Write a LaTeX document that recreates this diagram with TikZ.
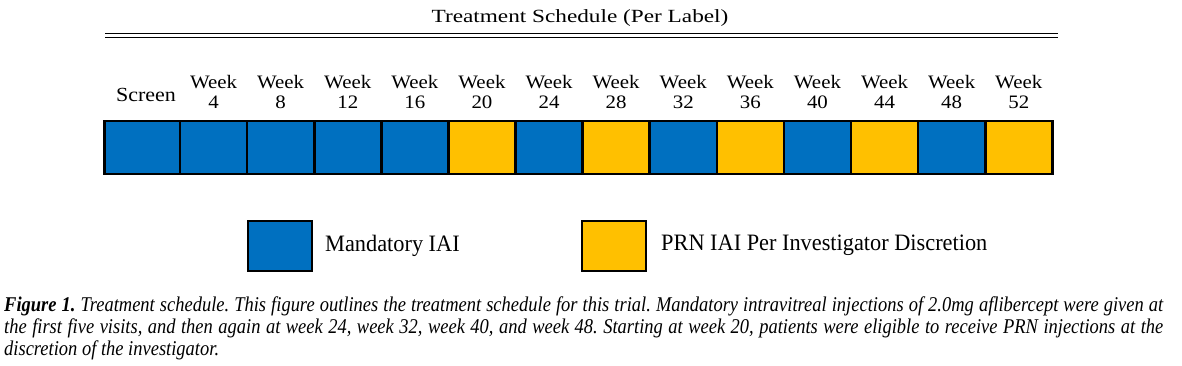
\documentclass[tikz,border=0pt]{standalone}
\usepackage{fontspec}
\setmainfont{Liberation Serif}
\newfontfamily\labfont[FakeStretch=1.25]{Liberation Serif}
\newfontfamily\wkfont[FakeStretch=1.1]{Liberation Serif}
\newfontfamily\legfont[FakeStretch=0.95]{Liberation Serif}
\newfontfamily\capfont[FakeStretch=0.88]{Liberation Serif}
\definecolor{mandblue}{HTML}{0070C0}
\definecolor{prnyellow}{HTML}{FFC000}
\frenchspacing
\begin{document}
\begin{tikzpicture}[x=1pt,y=-1pt,
  cell/.style={draw=black,line width=2.6pt,minimum height=53pt,inner sep=0pt,outer sep=0pt},
  mand/.style={cell,fill=mandblue},
  prn/.style={cell,fill=prnyellow},
  wlabel/.style={align=center,font=\wkfont\fontsize{19}{20}\selectfont,inner sep=0pt},
  legbox/.style={draw=black,line width=2pt,minimum width=64pt,minimum height=50pt,inner sep=0pt},
  legtext/.style={anchor=west,font=\legfont\fontsize{23.5}{26}\selectfont,inner sep=0pt},
  capline/.style={anchor=base west,inner sep=0pt,font=\capfont\itshape\fontsize{21}{22}\selectfont}
]
\useasboundingbox (0,0) rectangle (1182,365);
% title
\node[font=\labfont\fontsize{18.6}{20}\selectfont,inner sep=0pt] (title) at (580,18) {Treatment Schedule (Per Label)};
\coordinate (rl) at (105,33.6);
\coordinate (rr) at (1058,33.6);
\draw[line width=1.3pt] (rl) -- (rr);
\draw[line width=1.3pt] ([yshift=-3.6pt]rl) -- ([yshift=-3.6pt]rr);
% cells
\node[mand,minimum width=75.5pt] (c0) at (142.25,147.5) {};
\foreach \i/\s/\w in {1/mand/4,2/mand/8,3/mand/12,4/mand/16,5/prn/20,6/mand/24,7/prn/28,8/mand/32,9/prn/36,10/mand/40,11/prn/44,12/mand/48,13/prn/52}{
  \pgfmathsetmacro{\cx}{180+67.1*(\i-0.5)}
  \node[\s,minimum width=67.1pt] (c\i) at (\cx,147.5) {};
  \node[wlabel] (l\i) at (\cx,92) {Week\\\w};
}
\node[wlabel,font=\wkfont\fontsize{20}{20}\selectfont] (l0) at (146,95) {Screen};
% legend
\node[legbox,fill=mandblue] (lb) at (279.5,245.5) {};
\node[legtext] (lt) at (325,245.5) {Mandatory IAI};
\node[legbox,fill=prnyellow] (yb) at (614,245.5) {};
\node[legtext] (yt) at (661,245.5) {PRN IAI Per Investigator Discretion};
% caption
\node[capline] (cap1) at (4,311) {\makebox[1159pt][s]{\textbf{Figure 1.} Treatment schedule. This figure outlines the treatment schedule for this trial. Mandatory intravitreal injections of 2.0mg aflibercept were given at}};
\node[capline] (cap2) at (4,333.5) {\makebox[1159pt][s]{the first five visits, and then again at week 24, week 32, week 40, and week 48. Starting at week 20, patients were eligible to receive PRN injections at the}};
\node[capline] (cap3) at (4,355.5) {discretion of the investigator.};
\end{tikzpicture}
\end{document}
